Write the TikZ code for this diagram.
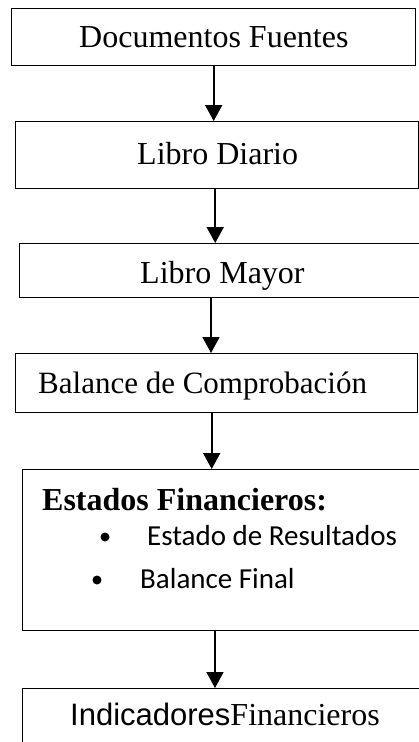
\documentclass[tikz,border=0pt]{standalone}
\usepackage{fontspec}
\setmainfont{Liberation Serif}
\newfontfamily\calfont{Carlito}
\newfontfamily\arialfont{Liberation Sans}
\usetikzlibrary{arrows.meta}
\begin{document}
\begin{tikzpicture}[x=1pt,y=-1pt,
  boxframe/.style={draw=black,line width=1.4pt,rectangle,inner sep=0pt,anchor=north west},
  arr/.style={draw=black,line width=1.8pt,-{Triangle[width=17pt,length=16pt]}},
  lbl/.style={anchor=base west,inner sep=0pt,font=\fontsize{32}{36}\selectfont},
  sublbl/.style={anchor=base west,inner sep=0pt,font=\calfont\fontsize{29}{33}\selectfont},
  bulletdot/.style={circle,fill=black,inner sep=0pt,minimum size=9pt}]
\useasboundingbox (0,0) rectangle (419,742);
\clip (0,0) rectangle (419,742);
\fill[white] (0,0) rectangle (419,742);
% boxes
\node[boxframe,minimum width=404pt,minimum height=57pt] (b1) at (11,8) {};
\node[boxframe,minimum width=403pt,minimum height=67pt] (b2) at (15,121) {};
\node[boxframe,minimum width=420pt,minimum height=54pt] (b3) at (19,243) {};
\node[boxframe,minimum width=402pt,minimum height=59pt] (b4) at (15,353) {};
\node[boxframe,minimum width=420pt,minimum height=161pt] (b5) at (22,469) {};
\node[boxframe,minimum width=420pt,minimum height=80pt] (b6) at (22,688) {};
% texts
\node[lbl] (t1) at (79,47) {Documentos Fuentes};
\node[lbl] (t2) at (137,164) {Libro Diario};
\node[lbl] (t3) at (140,283) {Libro Mayor};
\node[lbl,font=\fontsize{31}{35}\selectfont] (t4) at (38,393) {Balance de Comprobación};
\node[lbl,font=\bfseries\fontsize{32}{36}\selectfont] (t5) at (42,510) {Estados Financieros:};
\node[bulletdot] (d1) at (105,537) {};
\node[sublbl] (t6) at (147,545) {Estado de Resultados};
\node[bulletdot] (d2) at (97,580) {};
\node[sublbl] (t7) at (140,588) {Balance Final};
\node[lbl] (t8) at (70,725) {{\arialfont\fontsize{31}{35}\selectfont Indicadores}Financieros};
% arrows
\draw[arr] (b1.south) -- (b1.south |- b2.north);
\draw[arr] ([xshift=-2pt]b2.south) -- ([xshift=-2pt]b2.south |- b3.north);
\draw[arr] ([xshift=192pt]b3.south west) -- ([xshift=192pt]b3.south west |- b4.north);
\draw[arr] ([xshift=-5pt]b4.south) -- ([xshift=-5pt]b4.south |- b5.north);
\draw[arr] ([xshift=193pt]b5.south west) -- ([xshift=193pt]b5.south west |- b6.north);
\end{tikzpicture}
\end{document}
